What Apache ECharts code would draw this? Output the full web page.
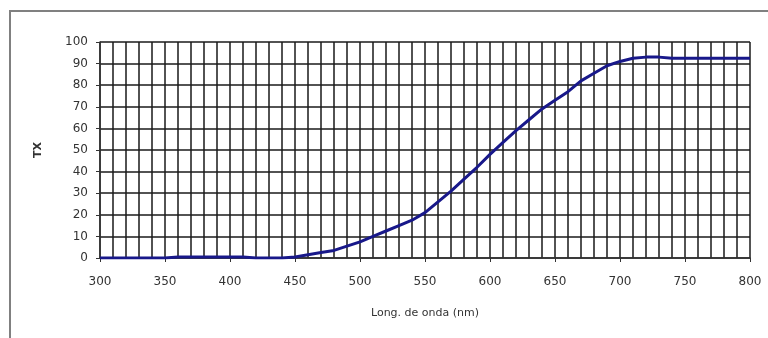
<!DOCTYPE html>
<html><head><meta charset="utf-8">
<script src="https://cdn.jsdelivr.net/npm/echarts@6/dist/echarts.min.js"></script>
<style>html,body{margin:0;padding:0;background:#fff;}#c{width:768px;height:338px;}</style>
</head><body><div id="c"></div>
<script>
const wavelengths = [300,310,320,330,340,350,360,370,380,390,400,410,420,430,440,450,460,470,480,490,500,510,520,530,540,550,560,570,580,590,600,610,620,630,640,650,660,670,680,690,700,710,720,730,740,750,760,770,780,790,800];
const transmittance = [0,0,0,0,0,0,0.5,0.5,0.5,0.5,0.5,0.5,0,0,0,0.5,1.5,2.5,3.5,5.5,7.5,10,12.5,15,17.5,21,26,31,36.5,42,48,53.5,59,64,69,73,77,82,85.5,89,91,92.5,93,93,92.5,92.5,92.5,92.5,92.5,92.5,92.5];
const xName = 'Long. de onda (nm)';
const yName = 'TX';

const chart = echarts.init(document.getElementById('c'));
chart.setOption({
  animation: false,
  backgroundColor: '#fff',
  graphic: [{type:'rect', shape:{x:10,y:11,width:800,height:400}, style:{fill:'none', stroke:'#808080', lineWidth:2}, z:-1}],
  grid: {left:100, right:18, top:42, bottom:80},
  xAxis: {
    type:'value', min:300, max:800, interval:50,
    name:xName, nameLocation:'middle', nameGap:50,
    nameTextStyle:{fontFamily:'DejaVu Sans', fontSize:11, color:'#333'},
    axisLine:{show:true, onZero:false, lineStyle:{color:'#333', width:1.5}},
    axisTick:{show:true, length:4, lineStyle:{color:'#333'}},
    axisLabel:{fontFamily:'DejaVu Sans', fontSize:12, color:'#333', margin:18},
    splitLine:{show:true, lineStyle:{color:'#1a1a1a', width:1.5}},
    minorTick:{show:false, splitNumber:5},
    minorSplitLine:{show:true, lineStyle:{color:'#1a1a1a', width:1.5}}
  },
  yAxis: {
    type:'value', min:0, max:100, interval:10,
    name:yName, nameLocation:'middle', nameGap:56, nameRotate:90,
    nameTextStyle:{fontFamily:'DejaVu Sans', fontSize:11, color:'#333', fontWeight:'bold'},
    axisLine:{show:true, lineStyle:{color:'#333', width:1.5}},
    axisTick:{show:true, length:4, lineStyle:{color:'#333'}},
    axisLabel:{fontFamily:'DejaVu Sans', fontSize:12, color:'#333', margin:12},
    splitLine:{show:true, lineStyle:{color:'#1a1a1a', width:1.5}}
  },
  series: [{
    type:'line', data: wavelengths.map((w,i)=>[w, transmittance[i]]),
    showSymbol:false, symbol:'none', smooth:false,
    lineStyle:{color:'#18188a', width:3}
  }]
});
</script></body></html>
